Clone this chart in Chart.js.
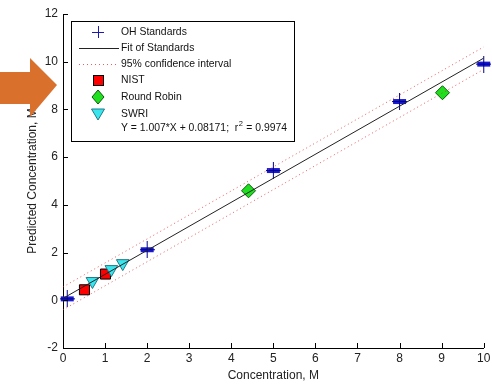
<!DOCTYPE html>
<html><head><meta charset="utf-8">
<script src="https://cdn.jsdelivr.net/npm/chart.js@4/dist/chart.umd.min.js"></script>
<style>html,body{margin:0;padding:0;background:#fff;}</style>
</head><body>
<canvas id="c" width="492" height="386"></canvas>
<script>
// ---- data ----
const xTickValues = [0,1,2,3,4,5,6,7,8,9,10];
const yTickValues = [-2,0,2,4,6,8,10,12];

const ohX = [0.1, 2.0, 5.0, 8.0, 10.0];
const ohY = [0.06, 2.12, 5.44, 8.33, 9.90];

const fitX = [0, 10];
const fitY = [0.08, 10.15];

const ciX = [0, 10];
const ciUpperY = [0.56, 10.62];
const ciLowerY = [-0.40, 9.68];

const nistX = [0.51, 1.01];
const nistY = [0.44, 1.10];

const rrX = [4.41, 9.02];
const rrY = [4.59, 8.70];

const swriX = [0.70, 1.15, 1.42];
const swriY = [0.80, 1.30, 1.55];

const legendLabels = ['OH Standards','Fit of Standards','95% confidence interval','NIST','Round Robin','SWRI'];
const equationText = 'Y = 1.007*X + 0.08171;  r\u00B2 = 0.9974';

const pts = (xs, ys) => xs.map((x,i)=>({x:x, y:ys[i]}));

// custom marker for OH standards: plus with a filled horizontal bar
function ohMarker(){
  const c = document.createElement('canvas');
  c.width = 15; c.height = 17;
  const g = c.getContext('2d');
  g.fillStyle = '#1a1ad0';
  g.fillRect(1, 6, 13, 5);
  g.strokeStyle = '#00008c';
  g.lineWidth = 1;
  g.beginPath();
  g.moveTo(7.5, 0); g.lineTo(7.5, 17);
  g.moveTo(0, 8.5); g.lineTo(15, 8.5);
  g.stroke();
  return c;
}
const ohImg = ohMarker();

const FONT = '"Liberation Sans", Arial, sans-serif';

const decoPlugin = {
  id: 'deco',
  afterDatasetsDraw(chart){
    const ctx = chart.ctx;
    const xs = chart.scales.x, ys = chart.scales.y;
    ctx.save();
    ctx.strokeStyle = '#000';
    ctx.lineWidth = 1;
    ctx.beginPath();
    xs.ticks.forEach(t=>{
      const px = Math.round(xs.getPixelForValue(t.value)) + 0.5;
      ctx.moveTo(px, ys.bottom); ctx.lineTo(px, ys.bottom - 5);
    });
    ys.ticks.forEach(t=>{
      const py = Math.round(ys.getPixelForValue(t.value)) + 0.5;
      ctx.moveTo(xs.left, py); ctx.lineTo(xs.left + 5, py);
    });
    ctx.stroke();
    ctx.restore();
  },
  afterDraw(chart){
    const ctx = chart.ctx;
    ctx.save();
    // legend box
    const bx = 71.5, by = 21.5, bw = 223, bh = 120;
    ctx.fillStyle = '#fff';
    ctx.fillRect(bx, by, bw, bh);
    ctx.strokeStyle = '#000';
    ctx.lineWidth = 1;
    ctx.strokeRect(bx, by, bw, bh);
    const rows = [32, 48, 64, 80, 97, 114];
    const sx = 98, tx = 121;
    ctx.font = '10.4px ' + FONT;
    ctx.fillStyle = '#111';
    ctx.textBaseline = 'middle';
    ctx.textAlign = 'left';
    legendLabels.forEach((l,i)=>ctx.fillText(l, tx, rows[i]));
    const parts = equationText.split('\u00B2');
    ctx.fillText(parts[0], tx, 128);
    const w0 = ctx.measureText(parts[0]).width;
    ctx.font = '7.5px ' + FONT;
    ctx.fillText('2', tx + w0 + 0.5, 124);
    const w2 = ctx.measureText('2').width;
    ctx.font = '10.4px ' + FONT;
    ctx.fillText(parts[1], tx + w0 + w2 + 1, 128);
    // OH plus
    ctx.strokeStyle = '#1a1ab0';
    ctx.beginPath();
    ctx.moveTo(sx-6, rows[0]+0.5); ctx.lineTo(sx+6, rows[0]+0.5);
    ctx.moveTo(sx+0.5, rows[0]-6); ctx.lineTo(sx+0.5, rows[0]+6);
    ctx.stroke();
    // fit line
    ctx.strokeStyle = '#222';
    ctx.beginPath();
    ctx.moveTo(79, rows[1]+0.5); ctx.lineTo(119, rows[1]+0.5);
    ctx.stroke();
    // CI dotted
    ctx.strokeStyle = 'rgba(225,40,40,0.75)';
    ctx.setLineDash([1,3]);
    ctx.beginPath();
    ctx.moveTo(79, rows[2]+0.5); ctx.lineTo(119, rows[2]+0.5);
    ctx.stroke();
    ctx.setLineDash([]);
    // NIST square
    ctx.fillStyle = '#ff0000'; ctx.strokeStyle = '#000';
    ctx.fillRect(sx-5, rows[3]-5, 10, 10);
    ctx.strokeRect(sx-4.5, rows[3]-4.5, 10, 10);
    // diamond
    ctx.fillStyle = '#1ee01e'; ctx.strokeStyle = '#0a5a0a';
    ctx.beginPath();
    ctx.moveTo(sx, rows[4]-7); ctx.lineTo(sx+6, rows[4]); ctx.lineTo(sx, rows[4]+7); ctx.lineTo(sx-6, rows[4]); ctx.closePath();
    ctx.fill(); ctx.stroke();
    // triangle down
    ctx.fillStyle = '#3ae6ee'; ctx.strokeStyle = '#1e7a88';
    ctx.beginPath();
    ctx.moveTo(sx-6.5, rows[5]-5); ctx.lineTo(sx+6.5, rows[5]-5); ctx.lineTo(sx, rows[5]+6); ctx.closePath();
    ctx.fill(); ctx.stroke();
    // orange arrow annotation
    ctx.fillStyle = '#d9702c';
    ctx.beginPath();
    ctx.moveTo(0, 72); ctx.lineTo(30, 72); ctx.lineTo(30, 58);
    ctx.lineTo(57, 85); ctx.lineTo(30, 117); ctx.lineTo(30, 104); ctx.lineTo(0, 104);
    ctx.closePath();
    ctx.fill();
    ctx.restore();
  }
};

new Chart(document.getElementById('c'), {
  type: 'scatter',
  data: {
    datasets: [
      { label: 'CI upper', type: 'line', data: pts(ciX, ciUpperY), borderColor: 'rgba(225,40,40,0.75)', borderWidth: 1, borderDash: [1,3], pointRadius: 0, fill: false },
      { label: 'CI lower', type: 'line', data: pts(ciX, ciLowerY), borderColor: 'rgba(225,40,40,0.75)', borderWidth: 1, borderDash: [1,3], pointRadius: 0, fill: false },
      { label: 'Fit of Standards', type: 'line', data: pts(fitX, fitY), borderColor: '#222', borderWidth: 1, pointRadius: 0, fill: false },
      { label: 'OH Standards', data: pts(ohX, ohY), pointStyle: ohImg, clip: false },
      { label: 'SWRI', data: pts(swriX, swriY), pointStyle: 'triangle', rotation: 180, radius: 7.3, backgroundColor: '#3ae6ee', borderColor: '#1e7a88', borderWidth: 1, clip: false },
      { label: 'NIST', data: pts(nistX, nistY), pointStyle: 'rect', radius: 7.1, backgroundColor: '#ff0000', borderColor: '#000', borderWidth: 1, clip: false },
      { label: 'Round Robin', data: pts(rrX, rrY), pointStyle: 'rectRot', radius: 7, backgroundColor: '#1ee01e', borderColor: '#0a5a0a', borderWidth: 1, clip: false }
    ]
  },
  options: {
    responsive: false,
    animation: false,
    events: [],
    layout: { padding: { left: 0, right: 5, top: 14, bottom: 0 } },
    plugins: { legend: { display: false }, tooltip: { enabled: false } },
    scales: {
      x: {
        type: 'linear', min: 0, max: 10,
        afterBuildTicks: s => { s.ticks = xTickValues.map(v => ({ value: v })); },
        afterFit: s => { s.height = 38; s.paddingLeft = 0; s.paddingRight = 0; },
        grid: { display: false, drawTicks: false, tickLength: 0 },
        border: { display: true, color: '#000', width: 1 },
        ticks: { color: '#222', font: { family: FONT, size: 12 }, padding: 3, maxRotation: 0 },
        title: { display: true, text: 'Concentration, M', color: '#222', font: { family: FONT, size: 12 }, padding: { top: 0, bottom: 3 } }
      },
      y: {
        type: 'linear', min: -2, max: 12,
        afterBuildTicks: s => { s.ticks = yTickValues.map(v => ({ value: v })); },
        afterFit: s => { s.width = 63; s.paddingTop = 0; s.paddingBottom = 0; },
        grid: { display: false, drawTicks: false, tickLength: 0 },
        border: { display: true, color: '#000', width: 1 },
        ticks: { color: '#222', font: { family: FONT, size: 12 }, padding: 5 },
        title: { display: true, text: 'Predicted Concentration, M', color: '#222', font: { family: FONT, size: 12 }, padding: { top: 25, bottom: 0 } }
      }
    }
  },
  plugins: [decoPlugin]
});
</script>
</body></html>
